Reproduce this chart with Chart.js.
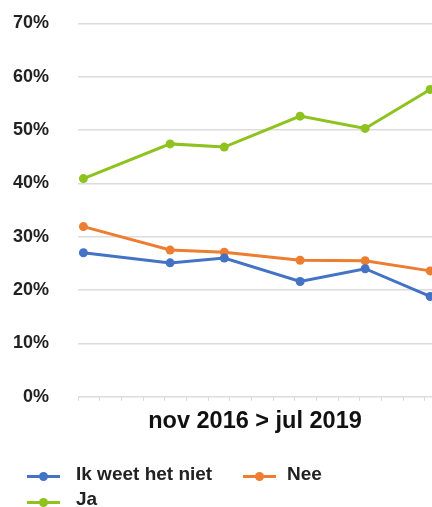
<!DOCTYPE html>
<html>
<head>
<meta charset="utf-8">
<script src="https://cdn.jsdelivr.net/npm/chart.js@4.4.1/dist/chart.umd.min.js"></script>
<style>
  body { margin: 0; background: #fff; }
  #wrap { position: relative; width: 432px; height: 507px; overflow: hidden; }
  #legend { position: absolute; left: 0; top: 0; width: 432px; height: 507px; pointer-events: none;
            font-family: 'Liberation Sans', Arial, sans-serif; font-weight: bold; font-size: 19px; color: #222; }
  .mark { position: absolute; width: 33px; height: 3px; }
  .mark i { position: absolute; left: 12px; top: -3px; width: 9px; height: 9px; border-radius: 50%; }
  .txt { position: absolute; line-height: 19px; white-space: nowrap; }
</style>
</head>
<body>
<div id="wrap">
  <canvas id="myChart" width="432" height="507"></canvas>
  <div id="legend"></div>
</div>
<script>
// survey moments
let survey_dates = ["2016-11", "2017-07", "2017-12", "2018-07", "2019-01", "2019-07"];
let weet_niet = [27.0, 25.1, 26.0, 21.6, 24.0, 18.8];
let nee = [31.9, 27.5, 27.1, 25.6, 25.5, 23.6];
let ja = [40.9, 47.4, 46.8, 52.6, 50.3, 57.6];
let series_names = ["Ik weet het niet", "Nee", "Ja"];
let series_colors = ["#4472c4", "#ed7d31", "#8dc21f"];
let axis_title = "nov 2016 > jul 2019";

let months = survey_dates.map(d => {
    let [y, m] = d.split("-").map(Number);
    let [y0, m0] = survey_dates[0].split("-").map(Number);
    return (y - y0) * 12 + (m - m0);
});

let toPoints = (values) => values.map((v, i) => ({x: months[i], y: v}));

let font = "'Liberation Sans', Arial, sans-serif";

let myChart = new Chart("myChart", {
    type: "line",
    data: {
        datasets: [weet_niet, nee, ja].map((values, i) => ({
            label: series_names[i],
            data: toPoints(values),
            borderColor: series_colors[i],
            backgroundColor: series_colors[i],
            borderWidth: 3,
            pointRadius: 4.5,
            pointBorderWidth: 0,
            tension: 0,
            clip: false
        }))
    },
    options: {
        responsive: false,
        animation: false,
        layout: {
            autoPadding: false,
            padding: {top: 23.3, left: 0, right: 0, bottom: 71}
        },
        plugins: {
            legend: {display: false},
            tooltip: {enabled: false}
        },
        scales: {
            x: {
                type: "linear",
                min: -0.5,
                max: 32.17,
                afterBuildTicks: (scale) => {
                    let ticks = [];
                    for (let v = -0.5; v <= scale.max; v += 2) ticks.push({value: v});
                    scale.ticks = ticks;
                },
                ticks: {display: false},
                grid: {
                    drawOnChartArea: false,
                    drawTicks: true,
                    tickLength: 4,
                    color: "#d9d9d9",
                    lineWidth: 1
                },
                border: {display: false},
                title: {
                    display: true,
                    text: axis_title,
                    color: "#111",
                    font: {family: font, size: 23.5, weight: "bold"},
                    padding: {top: 7, bottom: 0}
                }
            },
            y: {
                min: 0,
                max: 70,
                afterFit: (scale) => {
                    scale.width = 78;
                    // the big label gap should not push the plot down
                    scale.paddingTop = 0;
                    scale.paddingBottom = 0;
                },
                ticks: {
                    stepSize: 10,
                    padding: 29,
                    color: "#222",
                    font: {family: font, size: 18, weight: "bold"},
                    callback: (v) => v + "%"
                },
                grid: {
                    drawTicks: false,
                    color: "#dcdcdc",
                    lineWidth: 1.5
                },
                border: {display: false}
            }
        }
    }
});

// legend in two columns like the original: marker x, text x, line y, text top
let legend = document.getElementById("legend");
let spots = [[27, 76, 476, 464], [243, 287, 476, 464], [27, 76, 502.5, 489]];
myChart.data.datasets.forEach((ds, i) => {
    let [mx, tx, ly, ty] = spots[i];
    let mark = document.createElement("div");
    mark.className = "mark";
    mark.style.cssText = `left:${mx}px;top:${ly - 1.5}px;background:${ds.borderColor}`;
    mark.innerHTML = `<i style="background:${ds.borderColor}"></i>`;
    let txt = document.createElement("div");
    txt.className = "txt";
    txt.style.cssText = `left:${tx}px;top:${ty}px`;
    txt.textContent = ds.label;
    legend.appendChild(mark);
    legend.appendChild(txt);
});
</script>
</body>
</html>
